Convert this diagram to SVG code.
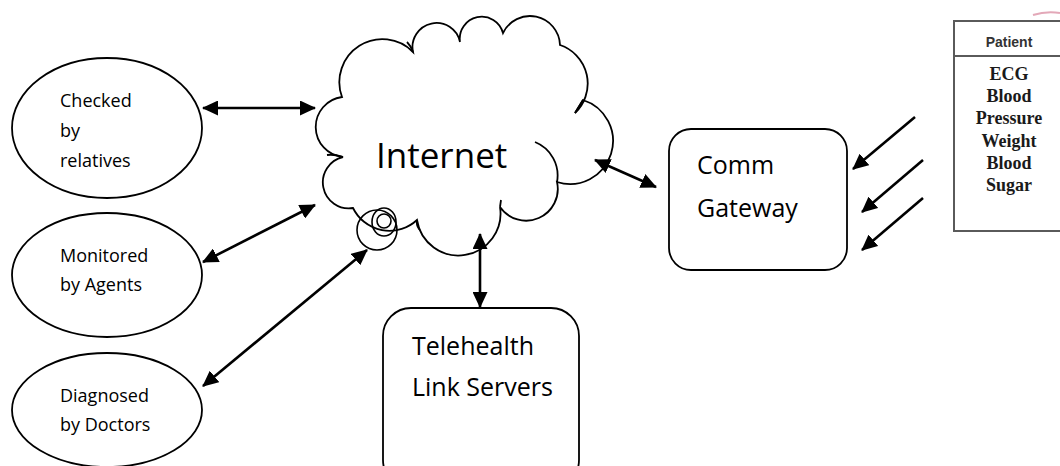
<svg xmlns="http://www.w3.org/2000/svg" width="1060" height="466" viewBox="0 0 1060 466">
  <style>
    .shape { fill: #ffffff; stroke: #000000; stroke-width: 1.8; }
    .lbl { font-family: "Open Sans", "Liberation Sans", sans-serif; fill: #000000; }
    .conn { stroke: #000000; stroke-width: 2.6; fill: none; }
    .tbl { font-family: "Liberation Serif", "Times New Roman", serif; font-weight: bold; font-size: 18px; fill: #1a1a1a; text-anchor: middle; }
  </style>
  <defs>
    <marker id="head" viewBox="0 0 16 15" refX="15" refY="7.5" markerWidth="16" markerHeight="15" markerUnits="userSpaceOnUse" orient="auto-start-reverse">
      <path d="M0,0 L16,7.5 L0,15 z" fill="#000000"/>
    </marker>
  </defs>

  <!-- user ellipses -->
  <g id="relatives">
    <ellipse class="shape" cx="107" cy="128" rx="95" ry="70"/>
    <text class="lbl" font-size="18" x="60" y="107">Checked</text>
    <text class="lbl" font-size="18" x="60" y="137">by</text>
    <text class="lbl" font-size="18" x="60" y="167">relatives</text>
  </g>
  <g id="agents">
    <ellipse class="shape" cx="107" cy="275" rx="95" ry="62"/>
    <text class="lbl" font-size="18" x="60" y="262">Monitored</text>
    <text class="lbl" font-size="18" x="60" y="291">by Agents</text>
  </g>
  <g id="doctors">
    <ellipse class="shape" cx="107" cy="410" rx="95" ry="57"/>
    <text class="lbl" font-size="18" x="60" y="402">Diagnosed</text>
    <text class="lbl" font-size="18" x="60" y="431">by Doctors</text>
  </g>

  <!-- internet cloud -->
  <g id="internet">
    <path class="shape" d="M342,97 A43,43 0 0,1 413,52 A24,24 0 0,1 460,42 A22,22 0 0,1 503,33 A30,30 0 0,1 560,45 A40.6,40.6 0 0,1 575,113 L583,100 A37.5,37.5 0 0,1 557,182 A31.7,31.7 0 0,1 500,207 A42,42 0 0,1 417,220 A40.6,40.6 0 0,1 353,208 A26,26 0 0,1 343,157 A30.2,30.2 0 0,1 342,97 Z"/>
    <path fill="none" stroke="#000" stroke-width="1.8" d="M407,42 Q411,46 413,52 M343,157 Q334,154 327,155 M575,113 L583,100 M535,142 A36,36 0 0,1 557,182 M500,207 L501,200 M417,220 Q416,226 420,230"/>
    <circle cx="377" cy="230" r="20" fill="none" stroke="#000" stroke-width="1.6"/>
    <ellipse cx="384" cy="222" rx="12" ry="14" fill="none" stroke="#000" stroke-width="1.6"/>
    <circle cx="384" cy="221" r="7" fill="none" stroke="#000" stroke-width="1.6"/>
    <text class="lbl" font-size="35" x="376" y="168">Internet</text>
  </g>

  <!-- gateway and servers -->
  <g id="gateway">
    <rect class="shape" x="669" y="129" width="178" height="141" rx="22"/>
    <text class="lbl" font-size="25" x="697" y="174">Comm</text>
    <text class="lbl" font-size="25" x="697" y="217">Gateway</text>
  </g>
  <g id="servers">
    <rect class="shape" x="383" y="308" width="196" height="180" rx="28"/>
    <text class="lbl" font-size="25" x="412" y="355">Telehealth</text>
    <text class="lbl" font-size="25" x="412" y="396">Link Servers</text>
  </g>

  <!-- patient measurements table -->
  <g id="patient">
    <rect x="954" y="21" width="120" height="210" fill="#ffffff" stroke="#5a5a5a" stroke-width="2"/>
    <line x1="954" y1="56" x2="1060" y2="56" stroke="#5a5a5a" stroke-width="2.2"/>
    <path d="M1033,15 Q1046,11 1060,13" fill="none" stroke="#e3a8b8" stroke-width="2"/>
    <text font-family="Liberation Sans, Arial, sans-serif" font-size="14" font-weight="bold" fill="#333" text-anchor="middle" x="1009" y="47">Patient</text>
    <text class="tbl" x="1009" y="80">ECG</text>
    <text class="tbl" x="1009" y="102">Blood</text>
    <text class="tbl" x="1009" y="124">Pressure</text>
    <text class="tbl" x="1009" y="147">Weight</text>
    <text class="tbl" x="1009" y="169">Blood</text>
    <text class="tbl" x="1009" y="191">Sugar</text>
  </g>

  <!-- connectors -->
  <g id="connectors">
    <line class="conn" x1="203" y1="108" x2="315" y2="108" marker-start="url(#head)" marker-end="url(#head)"/>
    <line class="conn" x1="203" y1="262" x2="315" y2="205" marker-start="url(#head)" marker-end="url(#head)"/>
    <line class="conn" x1="203" y1="386" x2="367" y2="250" marker-start="url(#head)" marker-end="url(#head)"/>
    <line class="conn" x1="480" y1="234" x2="480" y2="307" marker-start="url(#head)" marker-end="url(#head)"/>
    <line class="conn" x1="595" y1="160" x2="656" y2="187" marker-start="url(#head)" marker-end="url(#head)"/>
    <line class="conn" x1="915" y1="117" x2="853" y2="169" marker-end="url(#head)"/>
    <line class="conn" x1="923" y1="160" x2="862" y2="212" marker-end="url(#head)"/>
    <line class="conn" x1="923" y1="198" x2="862" y2="250" marker-end="url(#head)"/>
  </g>
</svg>
